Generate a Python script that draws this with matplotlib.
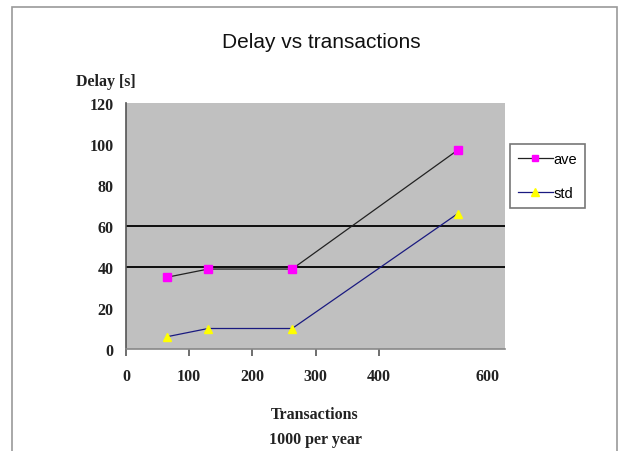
import matplotlib
matplotlib.use("Agg")
import matplotlib.pyplot as plt
import matplotlib.transforms as mtransforms
from matplotlib.patches import Rectangle

# Delay measurements against yearly transaction volume (thousands)
transactions = [65, 130, 263, 525]
delay_ave = [35, 39, 39, 97]
delay_std = [6, 10, 10, 66]

x_ticks = [0, 100, 200, 300, 400, 600]
y_ticks = [0, 20, 40, 60, 80, 100, 120]
ref_levels = [40, 60]

serif = "Liberation Serif"
sans = "Liberation Sans"

fig = plt.figure(figsize=(6.28, 4.52), dpi=100)
fig.patch.set_facecolor("white")

# outer chart frame
fig.patches.append(Rectangle((12 / 628, -0.01), 605 / 628, 1 - 8 / 452 + 0.01,
                             transform=fig.transFigure, fill=False,
                             edgecolor="#9a9a9a", linewidth=1.2))

ax = fig.add_axes([126 / 628, 1 - 350 / 452, 379 / 628, 246 / 452])
ax.set_facecolor("#c0c0c0")

for lvl in ref_levels:
    ax.axhline(lvl, color="black", linewidth=1.3, zorder=1)

ax.plot(transactions, delay_ave, color="#222222", linewidth=0.9,
        marker="s", markersize=5.5, markerfacecolor="#ff00ff",
        markeredgecolor="#ff00ff", label="ave", zorder=3)
ax.plot(transactions, delay_std, color="#1a1a80", linewidth=0.9,
        marker="^", markersize=6, markerfacecolor="#ffff00",
        markeredgecolor="#ffff00", label="std", zorder=3)

ax.set_xlim(0, 600)
ax.set_ylim(0, 120)
ax.set_xticks(x_ticks)
ax.set_yticks(y_ticks)
ax.tick_params(axis="x", direction="out", length=5, width=1.2, color="#555555",
               pad=9, labelsize=11.5)
ax.tick_params(axis="y", length=0, pad=9, labelsize=11.5)
for lab in ax.get_xticklabels() + ax.get_yticklabels():
    lab.set_fontfamily(serif)
    lab.set_fontweight("bold")
    lab.set_color("#222222")

# last x label sits inside the axis end, without a tick mark
last_tick = ax.xaxis.get_major_ticks()[-1]
last_tick.tick1line.set_visible(False)
shift = mtransforms.ScaledTranslation(-18 / 100, 0, fig.dpi_scale_trans)
last_tick.label1.set_transform(last_tick.label1.get_transform() + shift)

for side in ["top", "right"]:
    ax.spines[side].set_visible(False)
ax.spines["left"].set_color("#555555")
ax.spines["left"].set_linewidth(1.2)
ax.spines["bottom"].set_color("#888888")
ax.spines["bottom"].set_linewidth(1.2)

fig.text(321 / 628, 1 - 42 / 452, "Delay vs transactions", ha="center",
         va="center", fontsize=15, family=sans, color="#111111")
fig.text(106 / 628, 1 - 82 / 452, "Delay [s]", ha="center", va="center",
         fontsize=11.5, family=serif, fontweight="bold", color="#222222")
fig.text(315 / 628, 1 - 415 / 452, "Transactions", ha="center", va="center",
         fontsize=11.5, family=serif, fontweight="bold", color="#222222")
fig.text(315 / 628, 1 - 440 / 452, "1000 per year", ha="center", va="center",
         fontsize=11.5, family=serif, fontweight="bold", color="#222222")

leg = ax.legend(loc="upper left", bbox_to_anchor=(1.013, 0.833),
                borderaxespad=0, frameon=True, fancybox=False,
                handlelength=2.4, handletextpad=0.05, borderpad=0.55,
                labelspacing=1.35, markerscale=0.9,
                prop={"family": sans, "size": 10.5})
leg.get_frame().set_edgecolor("#555555")
leg.get_frame().set_linewidth(1.2)

fig.savefig("out.png", dpi=100)
